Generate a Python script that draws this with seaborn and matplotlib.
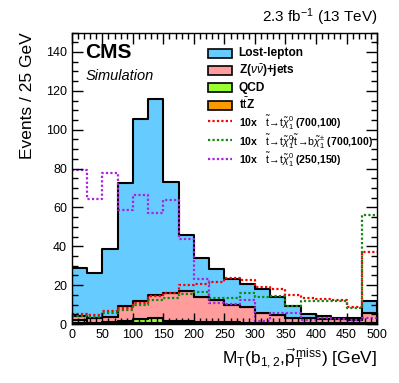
import numpy as np
import pandas as pd
import matplotlib
matplotlib.use("Agg")
import matplotlib.pyplot as plt
from matplotlib.patches import Patch, Rectangle
from matplotlib.lines import Line2D
from matplotlib.legend_handler import HandlerPatch
from matplotlib.ticker import MultipleLocator
import seaborn as sns

# ---------------- data ----------------
bin_edges = list(range(0, 525, 25))
bin_centers = [12.5 + 25 * i for i in range(20)]

lost_lepton = [24.9, 23.5, 34.6, 63.4, 93.5, 101.1, 57.1, 28.8, 20.0, 15.7,
               13.5, 11.8, 12.0, 9.1, 6.0, 2.4, 1.7, 0.7, 0.7, 6.3]
znunu = [2.0, 2.2, 3.0, 7.6, 9.2, 12.0, 14.2, 15.3, 12.9, 11.5,
         9.0, 7.9, 5.2, 4.1, 2.9, 2.6, 2.3, 2.3, 2.0, 4.9]
qcd = [1.8, 0.4, 0.4, 1.2, 2.2, 2.2, 0.8, 0.8, 0.4, 0.3,
       0.3, 0.2, 0.2, 0.2, 0.1, 0.1, 0.1, 0.1, 0.1, 0.2]
ttz = [0.3, 0.3, 0.4, 0.5, 0.6, 0.7, 0.8, 0.9, 0.8, 0.6,
       0.5, 0.5, 0.4, 0.3, 0.3, 0.2, 0.2, 0.2, 0.2, 0.4]

sig_t1 = [5.0, 4.4, 6.7, 8.1, 11.0, 14.4, 15.8, 20.1, 20.6, 21.8,
          23.8, 22.6, 19.2, 18.0, 14.9, 13.2, 12.9, 12.4, 8.6, 37.0]
sig_mixed = [4.1, 3.8, 5.5, 7.2, 9.8, 12.4, 13.6, 15.4, 16.6, 13.2,
             13.2, 16.1, 14.1, 14.4, 9.3, 11.8, 11.8, 11.8, 8.1, 56.0]
sig_t1_low = [79.3, 64.3, 77.9, 58.7, 66.4, 57.0, 63.8, 43.6, 23.0, 11.0,
              10.3, 12.4, 1.7, 5.8, 5.5, 2.3, 3.3, 2.6, 2.0, 3.3]

bkg_names = ["Lost-lepton", r"Z($\nu\bar{\nu}$)+jets", "QCD", r"t$\bar{\rm t}$Z"]
bkg_colors = ["#66ccff", "#ff9c9c", "#99ff33", "#ff9900"]
sig_labels = [r"10x   $\tilde{\rm t}\!\rightarrow\!{\rm t}\tilde{\chi}_1^0$ (700,100)",
              r"10x   $\tilde{\rm t}\!\rightarrow\!{\rm t}\tilde{\chi}_1^0\!/\tilde{\rm t}\!\rightarrow\!{\rm b}\tilde{\chi}_1^{\pm}$ (700,100)",
              r"10x   $\tilde{\rm t}\!\rightarrow\!{\rm t}\tilde{\chi}_1^0$ (250,150)"]
sig_colors = ["#ff0000", "#118811", "#aa22dd"]

# ---------------- figure ----------------
plt.rcParams.update({
    "font.family": ["Liberation Sans", "DejaVu Sans"],
    "mathtext.fontset": "custom",
    "mathtext.rm": "Liberation Sans",
    "mathtext.it": "Liberation Sans:italic",
    "mathtext.bf": "Liberation Sans:bold",
})

fig = plt.figure(figsize=(3.99, 3.83), dpi=100)
ax = fig.add_axes([0.180, 0.154, 0.765, 0.761])

rows = []
for name, vals in zip(bkg_names, [lost_lepton, znunu, qcd, ttz]):
    for c, v in zip(bin_centers, vals):
        rows.append({"x": c, "w": v, "process": name})
df = pd.DataFrame(rows)

sns.histplot(data=df, x="x", weights="w", hue="process", hue_order=bkg_names,
             palette=dict(zip(bkg_names, bkg_colors)), bins=bin_edges,
             multiple="stack", element="step", fill=True, alpha=1,
             edgecolor="black", linewidth=1.5, legend=False, ax=ax)

for vals, col in zip([sig_t1, sig_mixed, sig_t1_low], sig_colors):
    sdf = pd.DataFrame({"x": bin_centers, "w": vals})
    sns.histplot(data=sdf, x="x", weights="w", bins=bin_edges, element="step",
                 fill=False, color=col, linewidth=1.6, linestyle=(0, (1, 1)), ax=ax)

ax.set_xlim(0, 500)
ax.set_ylim(0, 150)

ax.set_xlabel(r"M$_{\rm T}$(b$_{1,2}$,$\vec{\rm p}_{\rm T}^{\rm \,miss}$) [GeV]", fontsize=12.5,
              ha="right", x=1.0, labelpad=4, color="black")
ax.set_ylabel("Events / 25 GeV", fontsize=12.5, ha="right", y=1.0, labelpad=8, color="black")

ax.text(1.0, 1.015, r"2.3 fb$^{-1}$ (13 TeV)", transform=ax.transAxes,
        ha="right", va="bottom", fontsize=11)
ax.text(0.045, 0.965, "CMS", transform=ax.transAxes, ha="left", va="top",
        fontsize=15, fontweight="bold")
ax.text(0.045, 0.875, "Simulation", transform=ax.transAxes, ha="left", va="top",
        fontsize=10.5, style="italic")


def small_box(legend, orig_handle, xdescent, ydescent, width, height, fontsize):
    h = height * 0.55
    return Rectangle((-xdescent, -ydescent + (height - h) / 2), width, h)


handles = [Patch(facecolor=c, edgecolor="black", linewidth=1.2) for c in bkg_colors]
handles += [Line2D([0], [0], color=c, lw=1.6, ls=(0, (1, 1))) for c in sig_colors]
labels = bkg_names + sig_labels
leg = ax.legend(handles, labels, loc="upper left", bbox_to_anchor=(0.446, 0.958),
                frameon=False, fontsize=7.6, handlelength=2.3, handleheight=2.05,
                labelspacing=0.05, handletextpad=0.6, borderaxespad=0,
                borderpad=0, handler_map={Patch: HandlerPatch(patch_func=small_box)})
for i, t in enumerate(leg.get_texts()):
    t.set_fontweight("bold")
    if i < 4:
        t.set_fontsize(8.6)

# ticks (applied last)
ax.xaxis.set_major_locator(MultipleLocator(50))
ax.xaxis.set_minor_locator(MultipleLocator(10))
ax.yaxis.set_major_locator(MultipleLocator(20))
ax.yaxis.set_minor_locator(MultipleLocator(5))
ax.tick_params(which="both", direction="in", top=True, right=True, bottom=True, left=True,
               color="black", width=1)
ax.tick_params(which="major", length=8, labelsize=9)
ax.tick_params(which="minor", length=4)
ax.xaxis.set_zorder(4)
ax.yaxis.set_zorder(4)
for s in ax.spines.values():
    s.set_linewidth(1.0)
    s.set_color("black")
    s.set_zorder(4)

fig.savefig("out.png", dpi=100)
